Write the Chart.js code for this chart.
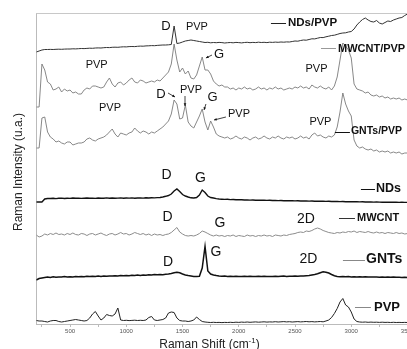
<!DOCTYPE html>
<html>
<head>
<meta charset="utf-8">
<script src="https://cdn.jsdelivr.net/npm/chart.js@4.4.1/dist/chart.umd.min.js"></script>
<style>
  html, body { margin: 0; padding: 0; background: #fff; overflow: hidden; }
</style>
</head>
<body>
<canvas id="raman" width="430" height="349"></canvas>
<script>
// Raman shift (cm-1), one sample every 25
const shift = [
  200,225,250,275,300,325,350,375,400,425,
  450,475,500,525,550,575,600,625,650,675,
  700,725,750,775,800,825,850,875,900,925,
  950,975,1000,1025,1050,1075,1100,1125,1150,1175,
  1200,1225,1250,1275,1300,1325,1350,1375,1400,1425,
  1450,1475,1500,1525,1550,1575,1600,1625,1650,1675,
  1700,1725,1750,1775,1800,1825,1850,1875,1900,1925,
  1950,1975,2000,2025,2050,2075,2100,2125,2150,2175,
  2200,2225,2250,2275,2300,2325,2350,2375,2400,2425,
  2450,2475,2500,2525,2550,2575,2600,2625,2650,2675,
  2700,2725,2750,2775,2800,2825,2850,2875,2900,2925,
  2950,2975,3000,3025,3050,3075,3100,3125,3150,3175,
  3200,3225,3250,3275,3300,3325,3350,3375,3400,3425,
  3450,3475,3500
];

// stacked intensities (u.a.), already offset
const ndsPvp = [
  272,273,274,274.5,274.5,274.6,274.5,274.7,274.8,274.7,
  274.9,275,275,275.2,275.1,275.3,275.5,275.4,275.6,275.8,
  275.7,276,276.1,276,276.3,276.5,276.4,276.7,276.8,276.7,
  277,277.2,277.1,277.4,277.5,277.4,277.7,277.9,277.8,278.1,
  278.2,278.4,278.3,278.6,278.8,279,279,279.2,279.5,298,
  280.5,281,282,283,283.5,284,283.5,283,282.5,282,
  281.5,281.7,281.2,281.5,281.3,281.6,281.4,281,281.3,281.5,
  281.2,281.6,281.4,281.1,281.5,281.7,281.3,281.6,281.4,281.8,
  281.5,281.7,281.4,281.8,281.6,281.9,281.7,282,281.8,282.1,
  282,282.5,283,282.8,283.5,284,283.8,284.5,285.2,285.1,
  285.8,286.5,286.4,287.2,287.8,288.5,288.8,289.6,290.5,291,
  291.2,292,292.5,295,299,302,304.5,306,304,302.5,
  302,303.5,301,300,301.5,303,302.5,304,305,306,
  306.5,308.5,310
];

const mwcntPvp = [
  217,217,260,254,242,240,234,235,237,232,
  235,233,234,231,232,230,230,234,236,235,
  238,238,237,236,237,242,246,240,237,241,
  242,239,241,244,246,242,241,244,243,241,
  242,243,242,244,243,246,249,252,260,280,
  264,252,256,250,253,246,245,249,258,267,
  254,254,250,243,240,238,239,237,237,235,
  236,234,236,235,237,235,236,234,235,237,
  235,236,234,236,235,237,235,236,234,235,
  236,235,237,236,238,236,237,235,239,237,
  236,238,236,235,237,234,238,247,264,281,
  278,274,266,240,235,234,233,231,232,229,
  228,229,227,228,226,227,225,226,225,226,
  224,225,224
];

const gntsPvp = [
  176,176,206,207,192,187,185,182,183,181,
  180,182,182,179,180,181,181,182,185,186,
  184,183,185,186,187,189,192,195,190,187,
  191,190,189,191,192,196,193,191,193,192,
  190,192,191,193,195,197,200,203,210,224,
  220,205,206,219,202,198,196,202,208,215,
  202,194,203,197,190,188,187,186,187,185,
  186,188,186,185,187,186,184,186,187,185,
  186,188,186,185,187,186,188,186,185,187,
  186,187,185,186,188,186,187,185,189,191,
  188,189,187,186,188,187,189,197,212,231,
  220,213,208,184,178,176,177,175,174,175,
  173,174,172,173,172,173,171,172,171,172,
  170,171,171
];

const nds = [
  122,122,122,125,125.5,125.5,125.8,125.4,125.7,125.9,
  125.5,125.8,125.6,126,125.7,125.9,125.6,125.8,126,125.7,
  125.9,125.6,126,125.8,125.7,126.1,125.8,126,125.7,125.9,
  126.1,125.8,126,125.9,126.1,125.8,126,126.1,125.9,126.2,
  126,126.2,126.1,126.4,126.5,127,127.7,128.5,130,133,
  135,132.5,129.5,128,127,126.2,126,126.5,129,134,
  131.5,128,126.5,126,125.4,125,124.8,124.6,124.7,124.4,
  124.5,124.3,124.2,124.3,124,124.1,123.9,124,123.8,123.9,
  123.7,123.8,123.6,123.7,123.5,123.6,123.4,123.5,123.3,123.4,
  123.2,123.3,123.1,123.2,123,123.1,123,122.9,123,122.8,
  122.9,122.7,122.8,122.6,122.7,122.5,122.6,122.5,122.4,122.5,
  122.3,122.4,122.2,122.3,122.2,122.1,122.2,122,122.1,122,
  121.9,122,121.9,121.8,121.9,121.8,121.7,121.8,121.7,121.6,
  121.7,121.6,121.6
];

const mwcnt = [
  89,87,88,90,89,90.5,89.5,91,89.5,90,
  89,90.5,89.5,91,89.5,89,90.5,90,88.5,90,
  90.5,89,90,91,89.5,88.5,90,90.5,89,90,
  91.5,90,90.5,89,90,91.5,90.5,89.5,90.5,89,
  90,88.5,90,89,89.5,88.5,89.5,90,91.5,94,
  96.5,92,90,88.5,88,88.5,88,89,90.5,93,
  92,90.5,89,88,89,88,88.5,87.5,88.5,88,
  89,87.5,88.5,88,87.5,89,88,88.5,87.5,88.5,
  88,89,88,88.5,87.5,89,88.5,88,89,88.5,
  89.5,90,90.5,91.5,92,91.5,93,92.5,93.5,95,
  96,95,93.5,92.5,91.5,91,90.5,91.5,91,92,
  91.5,92.5,92,93,91.5,92.5,92,91.5,92.5,91.5,
  91,92,91,91.5,90.5,91.5,91,90.5,91.5,90.5,
  91,90,90.5
];

const gnts = [
  44,45.5,46,46.5,47,46.6,47.2,46.8,47.1,47,
  47.4,46.9,47.3,47.1,47.5,47.2,47.6,47.3,47.7,47.4,
  47.8,47.5,47.9,47.6,48,47.7,48.1,47.9,48.3,48,
  48.4,48.2,48.6,48.3,48.7,48.5,48.9,48.6,49,48.8,
  49.2,49,49.4,49.2,49.5,49.3,49.7,50,50.5,51.2,
  51.7,51.2,50,49,48.4,48,47.6,47.4,47.8,56,
  77.5,53,50,49,48.4,48,47.7,47.9,47.6,47.8,
  47.5,47.7,47.4,47.6,47.8,47.5,47.7,47.4,47.6,47.8,
  47.5,47.7,47.4,47.6,47.5,47.8,47.5,47.7,47.9,47.6,
  47.8,47.7,48,47.8,48.1,47.9,48.2,48.4,49,49.5,
  50.2,51.2,52.2,51.8,51,49.5,48.2,47.6,47.3,47.5,
  47.2,47.4,47.1,47.3,47.1,47.2,47,47.2,46.9,47.1,
  46.9,47,46.8,47,46.8,46.9,46.7,46.9,46.7,46.8,
  46.6,46.8,46.6
];

const pvp = [
  3.5,3,3,2.5,2,3,3.5,3.5,2.5,2,
  2.5,3,3.5,4,4.5,4,3.5,3,3.5,6,
  10,12.5,8,4,6,9.5,8.5,8,10,16,
  4,3.5,3.7,3.4,3.6,3.8,3.5,3.7,3.5,4,
  6.5,7.5,4,3.5,4,4.5,6,11,12,11.5,
  6,3.5,3,3,2.5,3,4,7,4.5,2.5,
  2,1.7,1.5,1.7,1.5,1.6,1.4,1.6,1.5,1.7,
  1.5,1.8,1.6,1.9,1.7,2,1.7,1.9,2.1,1.8,
  2,2.2,1.9,2.1,2,2.3,2,2.2,2.4,2.1,
  2.3,2,2.2,2.4,2.1,2.3,2.5,2.2,2.4,2.1,
  2.3,2.5,2.2,3,4,6.5,10.5,15.5,22,25.5,
  19,17,12,5,2.5,2,1.8,2,1.7,1.9,
  1.7,1.8,1.6,1.8,1.6,1.7,1.5,1.7,1.5,1.6,
  1.5,1.6,1.5
];

const xTicks = [250,500,750,1000,1250,1500,1750,2000,2250,2500,2750,3000,3250,3500];
const xTickLabels = ['500','1000','1500','2000','2500','3000','3500'];

const FONT = '"Liberation Sans", Arial, sans-serif';

const line = (label, values, color, width) => ({
  label,
  data: values.map((v, i) => ({ x: shift[i], y: v })),
  borderColor: color,
  borderWidth: width,
  pointRadius: 0,
  tension: 0,
  fill: false
});

// peak labels, legend keys and frame
const decorations = {
  id: 'decorations',
  afterDatasetsDraw(chart) {
    const { ctx, chartArea: a, scales: { x, y } } = chart;
    const X = v => x.getPixelForValue(v);
    const Y = v => y.getPixelForValue(v);
    ctx.save();

    // top frame line
    ctx.strokeStyle = '#c8c8c8';
    ctx.lineWidth = 1;
    ctx.beginPath();
    ctx.moveTo(a.left, a.top + 0.5);
    ctx.lineTo(a.right, a.top + 0.5);
    ctx.stroke();

    ctx.fillStyle = '#111';
    ctx.textBaseline = 'middle';
    ctx.textAlign = 'center';
    const peaks = [
      ['D', 1353, 298, 13], ['PVP', 1628, 297.5, 11],
      ['PVP', 737, 259.5, 11], ['G', 1824, 270, 13], ['PVP', 2691, 255, 11],
      ['PVP', 855, 216.5, 11], ['D', 1308, 229.5, 13], ['PVP', 1575, 234, 11],
      ['G', 1766, 226.5, 13], ['PVP', 2002, 210, 11], ['PVP', 2726, 202.5, 11],
      ['D', 1357, 148.7, 14], ['G', 1660, 145.5, 14],
      ['D', 1366, 106.5, 14], ['G', 1833, 101.3, 14], ['2D', 2597, 104.5, 14],
      ['D', 1371, 62, 14], ['G', 1797, 71.7, 14], ['2D', 2620, 65, 14]
    ];
    peaks.forEach(([t, w, h, s]) => {
      ctx.font = s + 'px ' + FONT;
      ctx.fillText(t, X(w), Y(h));
    });

    // legend keys: text, line from, line to, text start, height, size, key colour
    const keys = [
      ['NDs/PVP', 2286, 2420, 2437, 300.7, 11.5, '#222'],
      ['MWCNT/PVP', 2731, 2864, 2882, 275.5, 11, '#999'],
      ['GNTs/PVP', 2855, 2988, 2997, 192.5, 10.5, '#111'],
      ['NDs', 3086, 3211, 3220, 135.5, 12.5, '#111'],
      ['MWCNT', 2891, 3033, 3051, 106, 11, '#333'],
      ['GNTs', 2926, 3122, 3131, 64.5, 14, '#888'],
      ['PVP', 3033, 3175, 3202, 17, 13, '#888']
    ];
    ctx.textAlign = 'left';
    keys.forEach(([t, w0, w1, wt, h, s, c]) => {
      ctx.strokeStyle = c;
      ctx.lineWidth = 1;
      ctx.beginPath();
      ctx.moveTo(X(w0), Math.round(Y(h)) + 0.5);
      ctx.lineTo(X(w1), Math.round(Y(h)) + 0.5);
      ctx.stroke();
      ctx.font = 'bold ' + s + 'px ' + FONT;
      ctx.fillText(t, X(wt), Y(h));
    });

    // small arrows pointing to the peaks
    const arrows = [
      [1762, 269, 1708, 266],
      [1371, 231, 1433, 227],
      [1522, 228, 1522, 218],
      [1708, 220, 1691, 214],
      [1886, 207, 1780, 204]
    ];
    ctx.strokeStyle = '#111';
    ctx.lineWidth = 0.8;
    arrows.forEach(([w0, h0, w1, h1]) => {
      const x0 = X(w0), y0 = Y(h0), x1 = X(w1), y1 = Y(h1);
      const ang = Math.atan2(y1 - y0, x1 - x0);
      ctx.beginPath();
      ctx.moveTo(x0, y0);
      ctx.lineTo(x1, y1);
      ctx.stroke();
      ctx.beginPath();
      ctx.moveTo(x1, y1);
      ctx.lineTo(x1 - 3 * Math.cos(ang - 0.45), y1 - 3 * Math.sin(ang - 0.45));
      ctx.lineTo(x1 - 3 * Math.cos(ang + 0.45), y1 - 3 * Math.sin(ang + 0.45));
      ctx.closePath();
      ctx.fill();
    });

    // axis titles
    ctx.fillStyle = '#222';
    ctx.textBaseline = 'alphabetic';
    ctx.save();
    ctx.translate(22, 172);
    ctx.rotate(-Math.PI / 2);
    ctx.textAlign = 'center';
    ctx.font = '12px ' + FONT;
    ctx.fillText('Raman Intensity (u.a.)', 0, 0);
    ctx.restore();

    const main = 'Raman Shift (cm', sup = '-1', end = ')';
    ctx.font = '12px ' + FONT;
    const w1 = ctx.measureText(main).width, w3 = ctx.measureText(end).width;
    ctx.font = '8px ' + FONT;
    const w2 = ctx.measureText(sup).width;
    let tx = 209.5 - (w1 + w2 + w3) / 2;
    const base = 347.5;
    ctx.textAlign = 'left';
    ctx.font = '12px ' + FONT;
    ctx.fillText(main, tx, base);
    ctx.font = '8px ' + FONT;
    ctx.fillText(sup, tx + w1, base - 5);
    ctx.font = '12px ' + FONT;
    ctx.fillText(end, tx + w1 + w2, base);
    ctx.restore();
  }
};

new Chart(document.getElementById('raman').getContext('2d'), {
  type: 'line',
  data: {
    datasets: [
      line('NDs/PVP', ndsPvp, '#333', 1),
      line('MWCNT/PVP', mwcntPvp, '#7a7a7a', 0.9),
      line('GNTs/PVP', gntsPvp, '#7a7a7a', 0.9),
      line('NDs', nds, '#111', 1.4),
      line('MWCNT', mwcnt, '#8c8c8c', 1),
      line('GNTs', gnts, '#111', 1.5),
      line('PVP', pvp, '#222', 1)
    ]
  },
  options: {
    responsive: false,
    animation: false,
    devicePixelRatio: 1,
    layout: { padding: { top: 13, right: 22.5, left: 0, bottom: 0 } },
    plugins: { legend: { display: false }, tooltip: { enabled: false } },
    scales: {
      x: {
        type: 'linear',
        min: 200,
        max: 3500,
        afterBuildTicks: s => { s.ticks = xTicks.map(v => ({ value: v })); },
        afterFit: s => { s.height = 25; },
        ticks: {
          autoSkip: false,
          maxRotation: 0,
          padding: 1,
          color: '#555',
          font: { family: FONT, size: 6 },
          callback: v => xTickLabels.includes(String(v)) ? String(v) : ''
        },
        grid: { drawOnChartArea: false, tickLength: 3, color: '#bbb' },
        border: { color: '#bbb' }
      },
      y: {
        min: 0,
        max: 311,
        afterFit: s => { s.width = 36.3; },
        ticks: { display: false },
        grid: { display: false },
        border: { color: '#bbb' }
      }
    }
  },
  plugins: [decorations]
});
</script>
</body>
</html>
